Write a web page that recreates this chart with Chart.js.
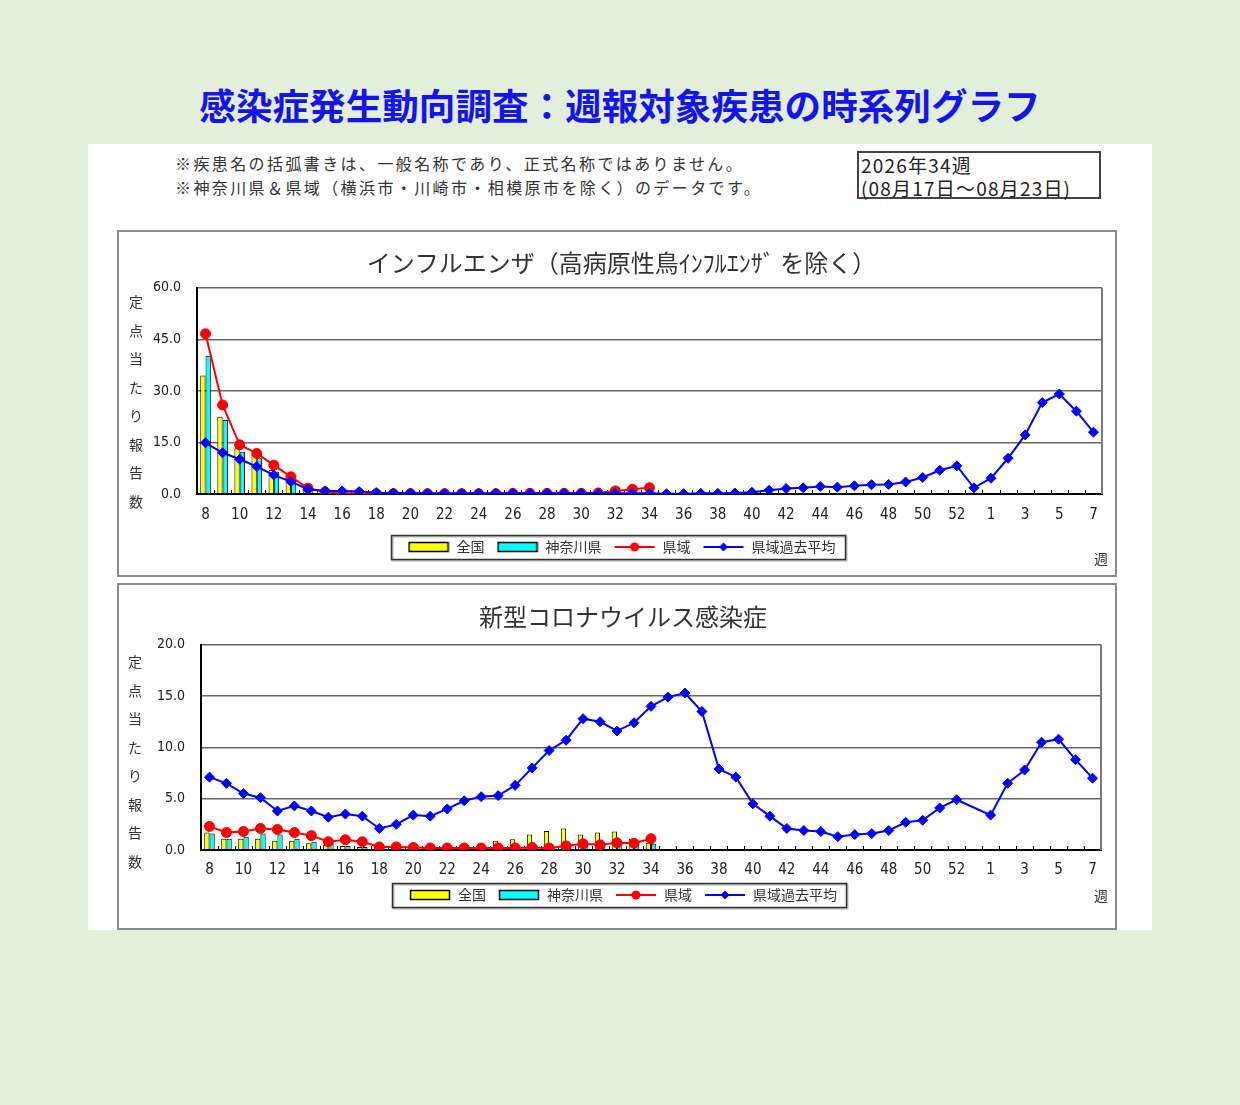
<!DOCTYPE html>
<html lang="ja">
<head>
<meta charset="utf-8">
<title>感染症発生動向調査：週報対象疾患の時系列グラフ</title>
<script src="https://cdn.jsdelivr.net/npm/chart.js@4.4.1/dist/chart.umd.min.js"></script>
<style>
  html, body { margin: 0; padding: 0; }
  body { width: 1240px; height: 1105px; background: #e2efda; position: relative; overflow: hidden;
         font-family: "Noto Sans CJK JP", sans-serif; color: #333; }
  #page-title { position: absolute; left: 0; top: 82px; width: 1240px; text-align: center; font-size: 36.6px;
                line-height: 46px; font-weight: bold; color: #1414f0; }
  #panel { position: absolute; left: 88px; top: 144px; width: 1064px; height: 786px; background: #fff; }
  .note { position: absolute; left: 175px; font-size: 16px; line-height: 20px; letter-spacing: 2.4px; color: #333; white-space: nowrap; }
  #week-box { position: absolute; left: 857px; top: 151px; width: 244px; height: 48px; box-sizing: border-box;
              border: 2px solid #444; font-size: 19px; line-height: 23px; letter-spacing: 1.2px; padding-left: 2px; color: #222; white-space: nowrap; }
  .chart-box { position: absolute; left: 117px; width: 1000px; height: 347px; box-sizing: border-box; border: 2px solid #8a8a8a; }
  .chart-wrap { position: absolute; left: -2px; top: -2px; width: 1000px; height: 347px; }
  .ylabel { position: absolute; width: 20px; text-align: center; font-size: 14px; line-height: 28.5px; color: #333; }
  .wk { position: absolute; font-size: 14px; line-height: 16px; color: #333; }
</style>
</head>
<body>
<div id="page-title">感染症発生動向調査：週報対象疾患の時系列グラフ</div>
<div id="panel"></div>
<div class="note" style="top:153px">※疾患名の括弧書きは、一般名称であり、正式名称ではありません。</div>
<div class="note" style="top:177px">※神奈川県＆県域（横浜市・川崎市・相模原市を除く）のデータです。</div>
<div id="week-box">2026年34週<br>(08月17日～08月23日)</div>

<div class="chart-box" style="top:230px"><div class="chart-wrap"><canvas id="fluChart"></canvas></div></div>
<div class="chart-box" style="top:583px"><div class="chart-wrap"><canvas id="covidChart"></canvas></div></div>

<div class="ylabel" style="left:126px; top:287px">定<br>点<br>当<br>た<br>り<br>報<br>告<br>数</div>
<div class="ylabel" style="left:125px; top:647px">定<br>点<br>当<br>た<br>り<br>報<br>告<br>数</div>
<div class="wk" style="left:1094px; top:550px">週</div>
<div class="wk" style="left:1094px; top:887px">週</div>

<script>
// week axis: 2026 wk8 .. wk53, then 2027 wk1 .. wk7
const weeks = ['8','9','10','11','12','13','14','15','16','17','18','19','20','21','22','23','24','25','26','27','28','29','30',
    '31','32','33','34','35','36','37','38','39','40','41','42','43','44','45','46','47','48','49','50','51','52','53',
    '1','2','3','4','5','6','7'];

const seriesNames = ['全国', '神奈川県', '県域', '県域過去平均'];

// インフルエンザ
const fluNational = [34.5, 22.5, 13.3, 11.4, 7.0, 3.6, 1.2, 0.6, 0.4, 0.3, 0.2, 0.2, 0.1, 0.1, 0.1, 0.1, 0.1, 0.1, 0.1, 0.1,
    0.1, 0.1, 0.2, 0.2, 0.3, 0.4, 0.5];
const fluKanagawa = [40.2, 21.5, 12.3, 10.4, 6.5, 4.3, 1.4, 0.5, 0.3, 0.2, 0.1, 0.1, 0.1, 0.1, 0.1, 0.1, 0.1, 0.1, 0.1, 0.1,
    0.1, 0.1, 0.1, 0.2, 0.3, 0.5, 0.7];
const fluPref = [46.6, 25.9, 14.3, 11.8, 8.4, 5.0, 1.7, 0.6, 0.3, 0.2, 0.1, 0.1, 0.1, 0.1, 0.1, 0.1, 0.1, 0.1, 0.2, 0.2,
    0.2, 0.2, 0.2, 0.3, 0.9, 1.4, 1.8];
const fluPastAvg = [14.9, 12.0, 10.1, 8.0, 5.5, 3.6, 1.4, 0.9, 0.9, 0.7, 0.4, 0.3, 0.3, 0.2, 0.2, 0.2, 0.2, 0.2, 0.2, 0.2,
    0.2, 0.2, 0.2, 0.2, 0.2, 0.2, 0.2, 0.1, 0.1, 0.2, 0.2, 0.3, 0.5, 1.1, 1.6, 1.8, 2.2, 2.0, 2.4, 2.7,
    2.8, 3.5, 4.8, 6.9, 8.2, 1.8, 4.6, 10.4, 17.2, 26.6, 29.1, 24.1, 18.0];

// 新型コロナウイルス感染症
const covNational = [1.7, 1.1, 1.1, 1.1, 0.9, 0.9, 0.65, 0.5, 0.4, 0.3, 0.2, 0.2, 0.2, 0.2, 0.2, 0.3, 0.4, 0.9, 1.05, 1.5,
    1.85, 2.1, 1.5, 1.7, 1.8, 1.1, 0.7];
const covKanagawa = [1.6, 1.1, 1.3, 1.6, 1.5, 1.1, 0.8, 0.65, 0.4, 0.3, 0.2, 0.1, 0.1, 0.1, 0.1, 0.1, 0.2, 0.3, 0.3, 0.4,
    0.4, 0.5, 0.5, 0.5, 0.6, 0.5, 0.6];
const covPref = [2.3, 1.7, 1.8, 2.1, 2.0, 1.7, 1.4, 0.8, 1.0, 0.8, 0.3, 0.3, 0.25, 0.2, 0.2, 0.2, 0.2, 0.2, 0.2, 0.25,
    0.2, 0.4, 0.6, 0.5, 0.7, 0.65, 1.1];
const covPastAvg = [7.1, 6.5, 5.5, 5.1, 3.8, 4.3, 3.8, 3.2, 3.5, 3.3, 2.1, 2.5, 3.4, 3.3, 4.0, 4.8, 5.2, 5.3, 6.3, 8.0,
    9.7, 10.7, 12.8, 12.5, 11.6, 12.4, 14.0, 14.9, 15.3, 13.5, 7.9, 7.1, 4.5, 3.3, 2.1, 1.9, 1.8, 1.3, 1.5, 1.6,
    1.9, 2.7, 2.9, 4.1, 4.9, null, 3.4, 6.5, 7.8, 10.5, 10.8, 8.8, 7.0];

const NUM_FONT = "'Liberation Sans Narrow', 'DejaVu Sans Condensed', 'Liberation Sans', sans-serif";
const JP_FONT = "'Noto Sans CJK JP', sans-serif";

function makeIcon(kind, color) {
    const c = document.createElement('canvas');
    c.width = 42;
    c.height = 14;
    const ctx = c.getContext('2d');
    if (kind === 'bar') {
        ctx.fillStyle = color;
        ctx.fillRect(1.5, 2.5, 39, 9);
        ctx.strokeStyle = '#000';
        ctx.lineWidth = 1.5;
        ctx.strokeRect(1.5, 2.5, 39, 9);
        return c;
    }
    ctx.strokeStyle = color;
    ctx.fillStyle = color;
    ctx.lineWidth = 2;
    ctx.beginPath();
    ctx.moveTo(1, 7);
    ctx.lineTo(41, 7);
    ctx.stroke();
    ctx.beginPath();
    if (kind === 'circle') {
        ctx.arc(21, 7, 4.5, 0, Math.PI * 2);
    } else {
        ctx.moveTo(21, 2.5); ctx.lineTo(25.5, 7); ctx.lineTo(21, 11.5); ctx.lineTo(16.5, 7); ctx.closePath();
    }
    ctx.fill();
    return c;
}

const legendIcons = [makeIcon('bar', '#ffff00'), makeIcon('bar', '#00ffff'), makeIcon('circle', '#ff0000'), makeIcon('diamond', '#0000ff')];

// plot frame on the right + short inward ticks between categories
const plotFrame = {
    id: 'plotFrame',
    beforeDatasetsDraw(chart) {
        const { ctx, chartArea, scales: { x } } = chart;
        ctx.save();
        ctx.strokeStyle = '#7a7a7a';
        ctx.lineWidth = 2;
        ctx.beginPath();
        ctx.moveTo(chartArea.right, chartArea.top);
        ctx.lineTo(chartArea.right, chartArea.bottom);
        ctx.stroke();

        const half = (x.getPixelForValue(1) - x.getPixelForValue(0)) / 2;
        ctx.strokeStyle = '#000';
        ctx.lineWidth = 1;
        ctx.beginPath();
        for (let i = 1; i < weeks.length; i++) {
            const px = Math.round(x.getPixelForValue(i) - half) + 0.5;
            ctx.moveTo(px, chartArea.bottom);
            ctx.lineTo(px, chartArea.bottom - 4);
        }
        ctx.stroke();
        ctx.restore();
    }
};

const legendFrame = {
    id: 'legendFrame',
    afterDraw(chart) {
        const boxes = chart.legend && chart.legend.legendHitBoxes;
        if (!boxes || !boxes.length) return;
        const left = Math.min(...boxes.map(b => b.left)) - 17;
        const right = Math.max(...boxes.map(b => b.left + b.width)) + 9;
        const top = Math.min(...boxes.map(b => b.top)) - 5;
        const bottom = Math.max(...boxes.map(b => b.top + b.height)) + 5;
        const { ctx } = chart;
        ctx.save();
        ctx.strokeStyle = '#bbb';
        ctx.lineWidth = 2;
        ctx.strokeRect(Math.round(left) + 1.5, Math.round(top) + 1.5, Math.round(right - left), Math.round(bottom - top));
        ctx.strokeStyle = '#333';
        ctx.lineWidth = 1.5;
        ctx.strokeRect(Math.round(left) + 0.5, Math.round(top) + 0.5, Math.round(right - left), Math.round(bottom - top));
        ctx.restore();
    }
};

function buildChart(canvasId, opts) {
    const canvas = document.getElementById(canvasId);
    if (!canvas) return null;

    return new Chart(canvas.getContext('2d'), {
        type: 'bar',
        data: {
            labels: weeks,
            datasets: [
                { label: seriesNames[0], data: opts.national, backgroundColor: '#ffff00', borderColor: '#000', borderWidth: 1,
                  categoryPercentage: 0.62, barPercentage: 1.0, order: 3 },
                { label: seriesNames[1], data: opts.kanagawa, backgroundColor: '#00ffff', borderColor: '#000', borderWidth: 1,
                  categoryPercentage: 0.62, barPercentage: 1.0, order: 4 },
                { type: 'line', label: seriesNames[2], data: opts.pref, borderColor: '#ff0000', backgroundColor: '#ff0000',
                  borderWidth: 2, pointStyle: 'circle', pointRadius: 5, pointBorderWidth: 1, tension: 0, order: 2 },
                { type: 'line', label: seriesNames[3], data: opts.pastAvg, borderColor: '#0000ff', backgroundColor: '#0000ff',
                  borderWidth: 2, pointStyle: 'rectRot', pointRadius: 5, pointBorderWidth: 1, tension: 0, spanGaps: true, order: 1 }
            ]
        },
        options: {
            responsive: true,
            maintainAspectRatio: false,
            animation: false,
            layout: { padding: opts.padding },
            plugins: {
                title: {
                    display: true,
                    text: opts.title,
                    color: '#333',
                    font: { family: JP_FONT, size: 24, weight: 'normal' },
                    padding: opts.titlePadding
                },
                legend: {
                    position: 'bottom',
                    labels: {
                        usePointStyle: true,
                        pointStyleWidth: 42,
                        padding: 12,
                        color: '#333',
                        font: { family: JP_FONT, size: 14 },
                        generateLabels: chart => chart.data.datasets.map((ds, i) => ({
                            text: ds.label,
                            pointStyle: legendIcons[i],
                            datasetIndex: i,
                            hidden: false,
                            lineWidth: 0,
                            fillStyle: 'transparent',
                            strokeStyle: 'transparent',
                            fontColor: '#333'
                        }))
                    }
                },
                tooltip: { enabled: false }
            },
            scales: {
                x: {
                    ticks: {
                        autoSkip: false,
                        maxRotation: 0,
                        padding: opts.xPad,
                        color: '#222',
                        font: { family: NUM_FONT, size: 15 },
                        callback(value, i) { return i % 2 === 0 ? this.getLabelForValue(value) : ''; }
                    },
                    grid: { display: true, drawOnChartArea: false, drawTicks: false },
                    border: { color: '#000', width: 2 },
                    afterFit: s => { s.height = opts.xHeight; }
                },
                y: {
                    min: 0,
                    max: opts.yMax,
                    ticks: {
                        stepSize: opts.yStep,
                        padding: 16,
                        color: '#222',
                        font: { family: NUM_FONT, size: 14 },
                        callback: v => Number(v).toFixed(1)
                    },
                    grid: { color: '#666', lineWidth: 1.5, drawTicks: false },
                    border: { color: '#000', width: 2 },
                    afterFit: s => { s.width = opts.yWidth; }
                }
            }
        },
        plugins: [plotFrame, legendFrame]
    });
}

buildChart('fluChart', {
    title: 'インフルエンザ（高病原性鳥ｲﾝﾌﾙｴﾝｻﾞ を除く）',
    national: fluNational, kanagawa: fluKanagawa, pref: fluPref, pastAvg: fluPastAvg,
    yMax: 60, yStep: 15, yWidth: 56, xPad: 12, xHeight: 34,
    padding: { left: 24, right: 15, top: 0, bottom: 13 },
    titlePadding: { top: 18, bottom: 11 }
});

buildChart('covidChart', {
    title: '新型コロナウイルス感染症',
    national: covNational, kanagawa: covKanagawa, pref: covPref, pastAvg: covPastAvg,
    yMax: 20, yStep: 5, yWidth: 56, xPad: 11, xHeight: 26,
    padding: { left: 28, right: 16, top: 0, bottom: 18 },
    titlePadding: { top: 19, bottom: 14 }
});
</script>
</body>
</html>
